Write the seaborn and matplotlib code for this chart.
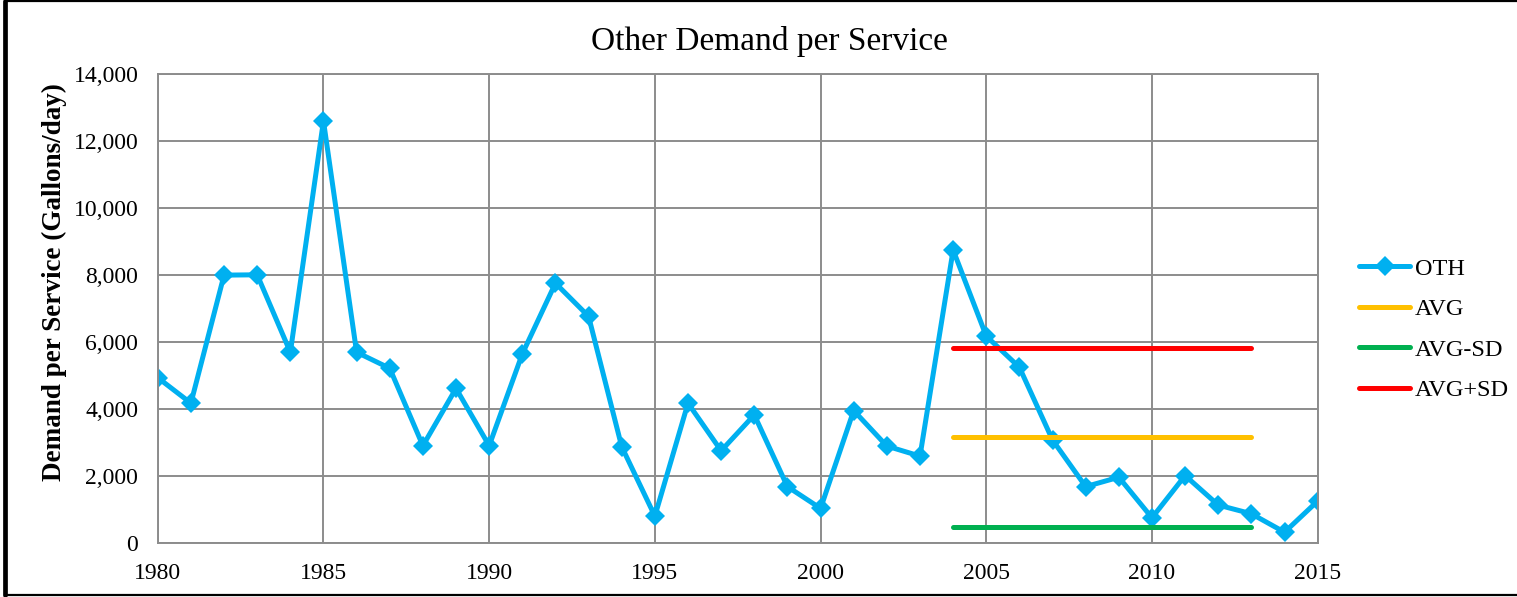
import matplotlib
matplotlib.use("Agg")
import matplotlib.pyplot as plt
import matplotlib.ticker as mticker
from matplotlib.lines import Line2D
import pandas as pd
import seaborn as sns

# data
years = list(range(1980, 2016))
oth = [4940, 4180, 8000, 8010, 5700, 12600, 5700, 5220, 2910, 4620,
       2910, 5650, 7760, 6770, 2880, 810, 4180, 2760, 3830, 1690,
       1040, 3960, 2900, 2600, 8750, 6180, 5250, 3080, 1690, 1970,
       760, 2020, 1140, 880, 330, 1260]

stat_years = [2004, 2013]
avg_val = 3160
avg_minus_sd = 500
avg_plus_sd = 5840

sns.set_theme(style="white")
plt.rcParams['font.family'] = ['Liberation Serif', 'DejaVu Serif']
plt.rcParams['text.color'] = 'black'
plt.rcParams['axes.labelcolor'] = 'black'
plt.rcParams['xtick.color'] = 'black'
plt.rcParams['ytick.color'] = 'black'

df = pd.DataFrame({'Year': years, 'OTH': oth})

fig = plt.figure(figsize=(15.17, 5.97), dpi=100)
ax = fig.add_axes([0.104, 0.09, 0.7646, 0.786])

sns.lineplot(data=df, x='Year', y='OTH', ax=ax, color='#00B0F0', lw=3.6,
             marker='D', markersize=10, markeredgewidth=0, label='OTH')
sns.lineplot(x=stat_years, y=[avg_val] * 2, ax=ax, color='#FFC000', lw=3.6,
             solid_capstyle='round', label='AVG')
sns.lineplot(x=stat_years, y=[avg_minus_sd] * 2, ax=ax, color='#00B050', lw=3.6,
             solid_capstyle='round', label='AVG-SD')
sns.lineplot(x=stat_years, y=[avg_plus_sd] * 2, ax=ax, color='#FF0000', lw=3.6,
             solid_capstyle='round', label='AVG+SD')

ax.set_xlim(1980, 2015)
ax.set_ylim(0, 14000)
ax.set_xticks(range(1980, 2016, 5))
ax.set_yticks(range(0, 14001, 2000))
ax.yaxis.set_major_formatter(mticker.FuncFormatter(lambda v, p: f'{int(v):,}'))
ax.grid(True, color='#8c8c8c', lw=1.4)
ax.set_axisbelow(True)
for s in ax.spines.values():
    s.set_color('#8c8c8c')
    s.set_linewidth(1.4)
ax.tick_params(axis='y', length=0, pad=14, labelsize=17)
ax.tick_params(axis='x', length=0, pad=14, labelsize=17)

ax.set_title('Other Demand per Service', fontsize=24, pad=17, x=0.527)
ax.set_xlabel('')
ax.set_ylabel('Demand per Service (Gallons/day)', fontsize=19.5,
              fontweight='bold', labelpad=5)
ax.yaxis.label.set_y(0.557)

ax.legend_.remove()
handles, labels = ax.get_legend_handles_labels()
fig.legend(handles, labels, loc='center left', bbox_to_anchor=(0.896, 0.448),
           frameon=False, fontsize=17.5, handlelength=2.1, handletextpad=0.2,
           labelspacing=0.76, borderpad=0, borderaxespad=0)

# outer chart border
fig.add_artist(Line2D([5 / 1517, 5 / 1517], [0.003, 0.998], color='black', lw=3.4))
fig.add_artist(Line2D([5 / 1517, 1.0], [0.998, 0.998], color='black', lw=1.6))
fig.add_artist(Line2D([5 / 1517, 1.0], [0.0035, 0.0035], color='black', lw=1.6))

fig.savefig('out.png', dpi=100)
